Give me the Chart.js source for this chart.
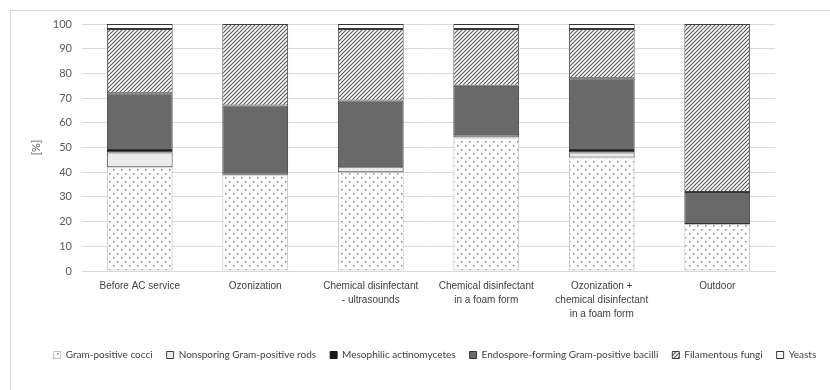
<!DOCTYPE html>
<html>
<head>
<meta charset="utf-8">
<script src="https://cdn.jsdelivr.net/npm/chart.js@4"></script>
<style>
  html, body { margin: 0; padding: 0; background: #fff; }
  #wrap { width: 830px; height: 390px; }
</style>
</head>
<body>
<div id="wrap"><canvas id="chart" width="830" height="390"></canvas></div>
<script>
// categorias (eje x)
const categories = [
    "Before AC service",
    "Ozonization",
    ["Chemical disinfectant", "- ultrasounds"],
    ["Chemical disinfectant", "in a foam form"],
    ["Ozonization +", "chemical disinfectant", "in a foam form"],
    "Outdoor"
];

// valores en %
const grampositiveCocci   = [42, 39, 40, 54, 46, 19];
const nonsporingRods      = [6, 0, 2, 1, 2, 0];
const actinomycetes       = [1, 0, 0, 0, 1, 0];
const endosporeBacilli    = [23, 28, 27, 20, 29, 13];
const filamentousFungi    = [26, 33, 29, 23, 20, 68];
const yeasts              = [2, 0, 2, 2, 2, 0];

const seriesNames = [
    "Gram-positive cocci",
    "Nonsporing Gram-positive rods",
    "Mesophilic actinomycetes",
    "Endospore-forming Gram-positive bacilli",
    "Filamentous fungi",
    "Yeasts"
];

const yTicks = [0, 10, 20, 30, 40, 50, 60, 70, 80, 90, 100];

// patrones de relleno
function dotPattern() {
    const c = document.createElement('canvas');
    c.width = 8; c.height = 8;
    const g = c.getContext('2d');
    g.fillStyle = '#ffffff';
    g.fillRect(0, 0, 8, 8);
    g.fillStyle = '#808080';
    g.fillRect(1, 1, 1.5, 1.5);
    g.fillRect(5, 5, 1.5, 1.5);
    return g.createPattern(c, 'repeat');
}

function hatchPattern() {
    const c = document.createElement('canvas');
    c.width = 4; c.height = 4;
    const g = c.getContext('2d');
    g.fillStyle = '#ffffff';
    g.fillRect(0, 0, 4, 4);
    g.strokeStyle = '#555555';
    g.lineWidth = 1.1;
    g.beginPath();
    g.moveTo(-1, 5); g.lineTo(5, -1);
    g.moveTo(-1, 1); g.lineTo(1, -1);
    g.moveTo(3, 5); g.lineTo(5, 3);
    g.stroke();
    return g.createPattern(c, 'repeat');
}

const dots = dotPattern();
const hatch = hatchPattern();

const fills   = [dots, '#ebebeb', '#1a1a1a', '#696969', hatch, '#ffffff'];
const borders = ['#bfbfbf', '#404040', '#1a1a1a', '#333333', '#404040', '#333333'];
const seriesData = [grampositiveCocci, nonsporingRods, actinomycetes, endosporeBacilli, filamentousFungi, yeasts];

const datasets = seriesNames.map((name, i) => ({
    label: name,
    data: seriesData[i],
    backgroundColor: fills[i],
    borderColor: borders[i],
    borderWidth: 1,
    borderSkipped: false,
    barPercentage: 0.57,
    categoryPercentage: 1
}));

// marco exterior del grafico
const frame = {
    id: 'frame',
    beforeDraw(chart) {
        const ctx = chart.ctx;
        ctx.save();
        ctx.fillStyle = '#ffffff';
        ctx.fillRect(0, 0, chart.width, chart.height);
        ctx.strokeStyle = '#d9d9d9';
        ctx.lineWidth = 1;
        ctx.strokeRect(10.5, 10.5, chart.width, chart.height);
        ctx.restore();
    },
    afterLayout(chart) {
        // centrar la leyenda un poco mas a la derecha, como en el original
        chart.legend.left += 5;
        chart.legend.right += 5;
    }
};

const ctx = document.getElementById('chart').getContext('2d');
new Chart(ctx, {
    type: 'bar',
    data: { labels: categories, datasets: datasets },
    plugins: [frame],
    options: {
        responsive: false,
        animation: false,
        layout: { padding: { left: 30, right: 0, top: 24, bottom: 20 } },
        plugins: {
            tooltip: { enabled: false },
            legend: {
                position: 'bottom',
                labels: {
                    boxWidth: 7,
                    boxHeight: 7,
                    padding: 14,
                    color: '#404040',
                    font: { family: 'Lato', size: 10 }
                }
            }
        },
        scales: {
            x: {
                stacked: true,
                grid: { display: false, drawTicks: false },
                border: { color: '#d9d9d9' },
                ticks: {
                    color: '#404040',
                    maxRotation: 0,
                    autoSkip: false,
                    padding: 8,
                    font: { family: "'Liberation Sans'", size: 10, lineHeight: 1.4 }
                },
                afterFit(scale) { scale.height = 65; }
            },
            y: {
                stacked: true,
                min: 0,
                max: 100,
                afterBuildTicks(scale) { scale.ticks = yTicks.map(v => ({ value: v })); },
                grid: { color: '#d9d9d9', drawTicks: false },
                border: { display: false },
                ticks: {
                    color: '#595959',
                    padding: 10,
                    font: { family: 'Lato', size: 11 }
                },
                title: {
                    display: true,
                    text: '[%]',
                    color: '#595959',
                    padding: { top: 0, bottom: 0 },
                    font: { family: 'Lato', size: 11 }
                },
                afterFit(scale) { scale.width = 52; }
            },
            yR: {
                position: 'right',
                min: 0,
                max: 100,
                grid: { display: false, drawOnChartArea: false },
                border: { display: false },
                ticks: { display: false },
                afterFit(scale) { scale.width = 55; }
            }
        }
    }
});
</script>
</body>
</html>
